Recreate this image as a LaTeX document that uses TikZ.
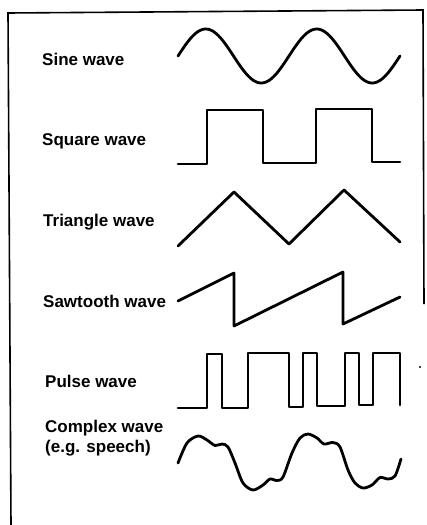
\documentclass[tikz,border=0pt]{standalone}
\usepackage{fontspec}
\newfontfamily\labelfont{Liberation Sans}
\usepackage{tikz}

\tikzset{
  wavelabel/.style={anchor=base west, inner sep=0pt, font=\labelfont\bfseries\fontsize{17}{20}\selectfont},
  wave/.style={line width=2.8pt, line join=round, line cap=round},
  frameline/.style={line width=1.6pt}
}

\begin{document}
\begin{tikzpicture}[x=1pt, y=-1pt]
			\useasboundingbox (0,0) rectangle (426,525);
			% frame, open at the bottom
			\draw[frameline] (11,525) -- (8,13) -- (423,10) -- (424,304);
			% labels
			\node[wavelabel] (sine) at (42,65) {Sine wave};
			\node[wavelabel] (square) at (42,145) {Square wave};
			\node[wavelabel] (triangle) at (43,226) {Triangle wave};
			\node[wavelabel] (sawtooth) at (43,307) {Sawtooth wave};
			\node[wavelabel] (pulse) at (45,387) {Pulse wave};
			\node[wavelabel, align=left] (complex) at (45,452) {Complex wave\\(e.g. speech)};
			% waves
			\draw[wave] plot[domain=0:720, samples=120] ({178+\x*0.3083}, {56-27*sin(\x)});
			\draw[wave] (178,164) -- (207,164) -- (207,110) -- (263,110) -- (263,163)
				-- (316,163) -- (316,109) -- (372,109) -- (372,162) -- (400,162);
			\draw[wave] (178,246) -- (234,192) -- (289,244) -- (344,190) -- (400,242);
			\draw[wave] (178,301) -- (234,273) -- (234,326) -- (343,272) -- (343,324) -- (400,297);
			\draw[wave] (178,408) -- (207,408) -- (207,354) -- (222,354) -- (222,408)
				-- (248,408) -- (248,353) -- (289,353) -- (289,407) -- (303,407) -- (303,353)
				-- (317,353) -- (317,406) -- (345,406) -- (345,353) -- (359,353) -- (359,405)
				-- (373,405) -- (373,353) -- (400,353) -- (400,405);
			\draw[wave] plot[smooth, tension=0.5] coordinates {(178,463) (187,443) (198,436)
				(207,440) (215,445.5) (222,444) (228,447) (235,463) (243,483) (253,490) (263,485)
				(270,479) (277,480.5) (283,477) (292,453) (300,438) (308,434) (317,438) (324,444)
				(333,442.5) (340,447) (348,470) (355,483) (363,488) (372,485) (380,477.5)
				(388,479) (395,476) (401,459)};
			\fill (420,367) circle (1.2pt);
		\end{tikzpicture}
\end{document}
